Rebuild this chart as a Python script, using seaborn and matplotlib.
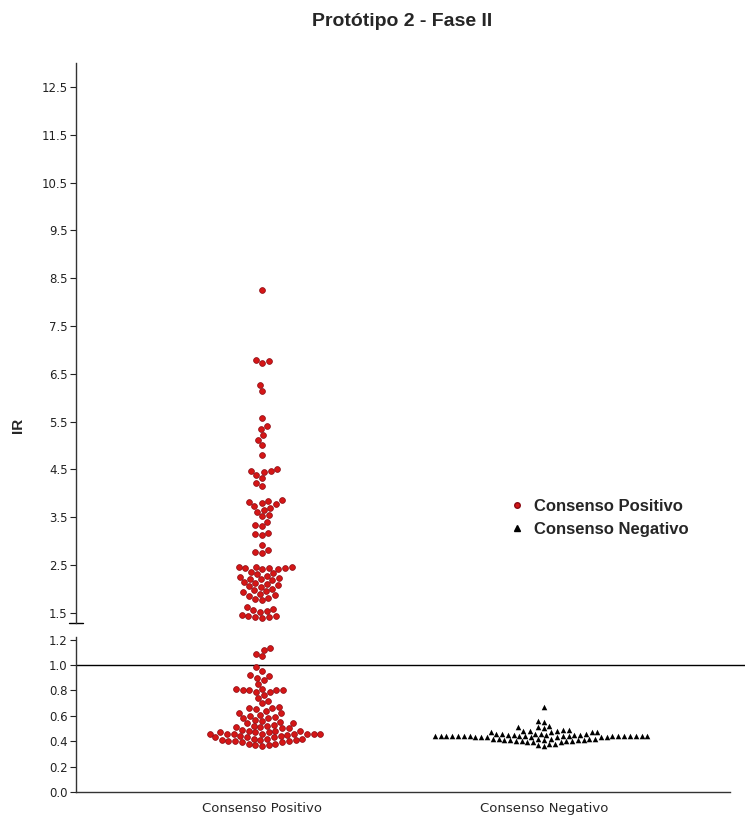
import pandas as pd
import matplotlib
matplotlib.use('Agg')
import matplotlib.pyplot as plt
from matplotlib.lines import Line2D
import seaborn as sns

### dados ###
grupos = ['Consenso Positivo', 'Consenso Negativo']

ir_positivo = [
    8.26,
    6.79, 6.76, 6.72, 6.27, 6.14,
    5.58, 5.41, 5.35, 5.22, 5.12, 5.01, 4.80,
    4.51, 4.47, 4.47, 4.45, 4.39, 4.32, 4.22, 4.16,
    3.86, 3.84, 3.82, 3.79, 3.77, 3.74, 3.70, 3.66, 3.62,
    3.55, 3.52, 3.40, 3.33, 3.31, 3.18, 3.16, 3.13, 2.92, 2.82, 2.77, 2.75,
    2.46, 2.46, 2.46, 2.45, 2.44, 2.43, 2.42, 2.41,
    2.36, 2.33, 2.31, 2.28, 2.26, 2.24, 2.22, 2.20, 2.18, 2.15, 2.13, 2.11,
    2.08, 2.06, 2.04, 2.01, 1.98, 1.96, 1.93, 1.90, 1.88, 1.85, 1.82, 1.80, 1.77,
    1.62, 1.58, 1.56, 1.55, 1.53,
    1.45, 1.44, 1.43, 1.42, 1.41, 1.40,
    1.13, 1.12, 1.09, 1.07,
    0.98, 0.95, 0.92, 0.91, 0.90, 0.88, 0.85,
    0.81, 0.81, 0.80, 0.80, 0.80, 0.80, 0.79, 0.79,
    0.76, 0.74, 0.72, 0.70,
    0.67, 0.66, 0.66, 0.65, 0.64,
    0.62, 0.62, 0.61, 0.60,
    0.59, 0.58, 0.58, 0.57, 0.56,
    0.55, 0.54, 0.54, 0.53,
    0.52, 0.52, 0.51, 0.51, 0.50, 0.50,
    0.49, 0.48, 0.48, 0.48, 0.47, 0.47, 0.47,
    0.46, 0.46, 0.46, 0.46, 0.46, 0.46, 0.46, 0.46,
    0.45, 0.44, 0.44, 0.43, 0.43, 0.43, 0.42, 0.42, 0.42, 0.41, 0.41,
    0.41, 0.40, 0.40, 0.40, 0.39, 0.39, 0.38, 0.38, 0.37, 0.37, 0.36,
]

ir_negativo = [
    0.67, 0.56, 0.55, 0.52, 0.51, 0.51, 0.50, 0.49, 0.49,
    0.48, 0.48, 0.48, 0.47, 0.47, 0.47, 0.47,
    0.46, 0.46, 0.46, 0.46, 0.46,
    0.45, 0.45, 0.45, 0.45, 0.45,
    0.44, 0.44, 0.44, 0.44, 0.44, 0.44, 0.44, 0.44, 0.44, 0.44,
    0.44, 0.44, 0.44, 0.44, 0.44, 0.44, 0.44, 0.44,
    0.43, 0.43, 0.43, 0.43, 0.43, 0.43, 0.43,
    0.42, 0.42, 0.42, 0.42, 0.42, 0.42,
    0.41, 0.41, 0.41, 0.41, 0.41,
    0.40, 0.40, 0.40, 0.40,
    0.39, 0.39, 0.39, 0.38, 0.38, 0.37, 0.36,
]

ticks_sup = [1.5, 2.5, 3.5, 4.5, 5.5, 6.5, 7.5, 8.5, 9.5, 10.5, 11.5, 12.5]
ticks_inf = [0.0, 0.2, 0.4, 0.6, 0.8, 1.0, 1.2]

df = pd.DataFrame({
    'grupo': [grupos[0]] * len(ir_positivo) + [grupos[1]] * len(ir_negativo),
    'IR': ir_positivo + ir_negativo,
})

### estilo ###
sns.set_style('ticks')
plt.rcParams['font.family'] = ['Liberation Sans', 'DejaVu Sans']

estilos = {
    grupos[0]: dict(color='#d41616', marker='o', size=4.2, edgecolor='#8a0a14', linewidth=0.5),
    grupos[1]: dict(color='black', marker='^', size=4.0, linewidth=0),
}

fig = plt.figure(figsize=(7.45, 8.16), dpi=100)
W, H = 745, 816
x0, x1 = 76, 730
ax_sup = fig.add_axes([x0 / W, 1 - 623 / H, (x1 - x0) / W, (623 - 63) / H])
ax_inf = fig.add_axes([x0 / W, 1 - 792 / H, (x1 - x0) / W, (792 - 637) / H])

corte = 1.3
for ax, parte in [(ax_sup, df[df['IR'] >= corte]), (ax_inf, df[df['IR'] < corte])]:
    for g in grupos:
        sns.swarmplot(data=parte[parte['grupo'] == g], x='grupo', y='IR', order=grupos,
                      ax=ax, **estilos[g])
    ax.set_xlim(-0.66, 1.66)
    ax.set_xlabel('')
    ax.set_ylabel('')
    ax.tick_params(axis='y', length=4, width=0.8, labelsize=8.5, colors='#222222', pad=2)

ax_sup.set_ylim(1.29, 13.0)
ax_sup.set_yticks(ticks_sup)
ax_sup.set_yticklabels([f'{t:.1f}' for t in ticks_sup], family='DejaVu Sans')
ax_sup.set_xticks([])
for s in ['top', 'right', 'bottom']:
    ax_sup.spines[s].set_visible(False)
# marca de quebra do eixo
ax_sup.plot([-0.011, 0.011], [0, 0], transform=ax_sup.transAxes, color='black',
            lw=1, clip_on=False)

ax_inf.set_ylim(0.0, 1.22)
ax_inf.set_yticks(ticks_inf)
ax_inf.set_yticklabels([f'{t:.1f}' for t in ticks_inf], family='DejaVu Sans')
ax_inf.set_xticks([0, 1])
ax_inf.set_xticklabels(grupos, fontsize=9.5, family='DejaVu Sans')
ax_inf.tick_params(axis='x', length=0, pad=7)
for s in ['top', 'right']:
    ax_inf.spines[s].set_visible(False)
ax_inf.axhline(1.0, xmin=0, xmax=(W - x0) / (x1 - x0), color='black', lw=1, clip_on=False)

for ax in (ax_sup, ax_inf):
    for s in ['left', 'bottom']:
        ax.spines[s].set_linewidth(1)
        ax.spines[s].set_color('#333333')

fig.text(402 / W, 1 - 22 / H, 'Protótipo 2 - Fase II', ha='center', va='center',
         fontsize=14, fontweight='bold')
fig.text(18 / W, 1 - 425 / H, 'IR', rotation=90, ha='center', va='center',
         fontsize=11, fontweight='bold')

handles = [
    Line2D([], [], ls='', marker='o', color='#d41616', markeredgecolor='#8a0a14',
           markersize=4, label=grupos[0]),
    Line2D([], [], ls='', marker='^', color='black', markersize=4, label=grupos[1]),
]
fig.legend(handles=handles, loc='center left', bbox_to_anchor=(492 / W, 1 - 518 / H),
           frameon=False, prop={'weight': 'bold', 'size': 12},
           handletextpad=0.4, labelspacing=0.45, handlelength=1.2)

fig.savefig('out.png', dpi=100)
